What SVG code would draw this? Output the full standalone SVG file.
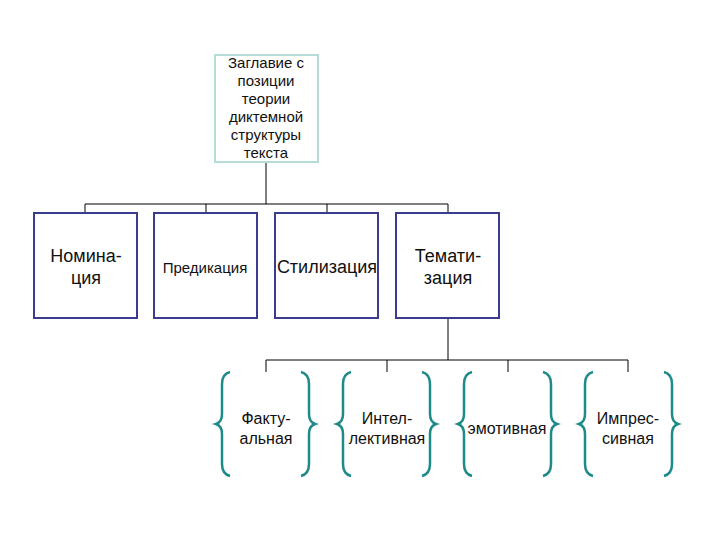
<svg xmlns="http://www.w3.org/2000/svg" width="720" height="540" viewBox="0 0 720 540">
<style>
.b{fill:#fff;stroke:#3b3b8f;stroke-width:2}
.t{font-family:"Liberation Sans",Arial,sans-serif;text-anchor:middle;fill:#111}
.br{fill:none;stroke:#1f8a8a;stroke-width:2.5}
.c{stroke:#000;stroke-width:1;fill:none}
</style>
<rect width="720" height="540" fill="#fff"/>
<g id="connectors">
<path class="c" d="M266 162V204M85 213V204H448V213M206 204V213M327 204V213"/>
<path class="c" d="M448 318V360M266 372V360H628V372M387 360V372M508 360V372"/>
</g>
<g id="root"><rect x="215" y="55" width="103" height="107" fill="#fff" stroke="#b5dcd6" stroke-width="2"/>
<text class="t" font-size="15"><tspan x="266" y="68">Заглавие с</tspan><tspan x="266" y="86">позиции</tspan><tspan x="266" y="104">теории</tspan><tspan x="266" y="122">диктемной</tspan><tspan x="266" y="140">структуры</tspan><tspan x="266" y="158">текста</tspan></text></g>
<g id="n1"><rect class="b" x="34" y="213" width="103" height="105"/><text class="t" font-size="18"><tspan x="86" y="262">Номина-</tspan><tspan x="86" y="284">ция</tspan></text></g>
<g id="n2"><rect class="b" x="154" y="213" width="103" height="105"/><text class="t" font-size="15" x="205" y="273">Предикация</text></g>
<g id="n3"><rect class="b" x="275" y="213" width="103" height="105"/><text class="t" font-size="18" x="327" y="273">Стилизация</text></g>
<g id="n4"><rect class="b" x="396" y="213" width="103" height="105"/><text class="t" font-size="18"><tspan x="448" y="262">Темати-</tspan><tspan x="448" y="284">зация</tspan></text></g>
<defs>
<path id="lb" class="br" d="M12 0Q4 2 4 12V42Q4 50 -2 52Q4 54 4 62V92Q4 102 12 104"/>
<path id="rb" class="br" d="M0 0Q8 2 8 12V42Q8 50 14 52Q8 54 8 62V92Q8 102 0 104"/>
</defs>
<g id="m1"><use href="#lb" x="218" y="372"/><use href="#rb" x="301" y="372"/><text class="t" font-size="16"><tspan x="266" y="424">Факту-</tspan><tspan x="266" y="444">альная</tspan></text></g>
<g id="m2"><use href="#lb" x="339" y="372"/><use href="#rb" x="422" y="372"/><text class="t" font-size="16"><tspan x="387" y="424">Интел-</tspan><tspan x="387" y="444">лективная</tspan></text></g>
<g id="m3"><use href="#lb" x="460" y="372"/><use href="#rb" x="543" y="372"/><text class="t" font-size="16" x="507" y="434">эмотивная</text></g>
<g id="m4"><use href="#lb" x="581" y="372"/><use href="#rb" x="664" y="372"/><text class="t" font-size="16"><tspan x="628" y="424">Импрес-</tspan><tspan x="628" y="444">сивная</tspan></text></g>
</svg>
